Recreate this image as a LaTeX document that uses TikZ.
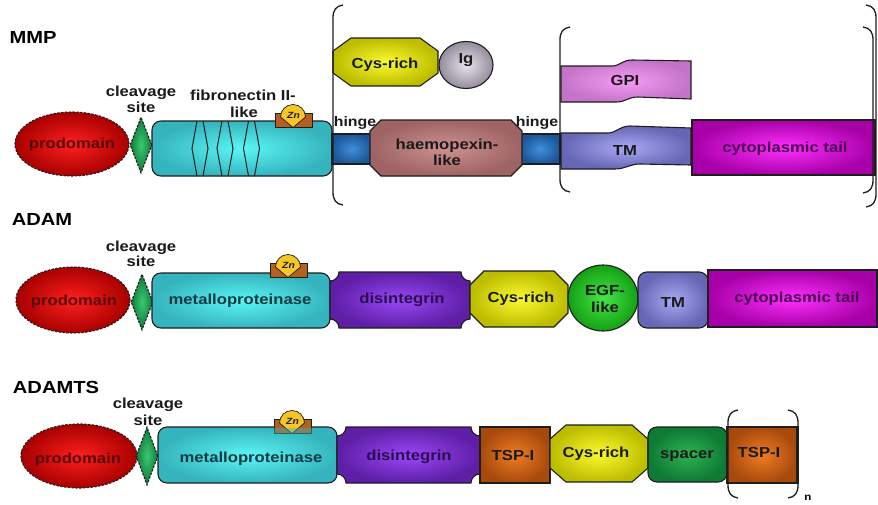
\documentclass[tikz,border=0pt]{standalone}
\usepackage{fontspec}
\setmainfont{Liberation Sans}[FakeStretch=1.15]
\usetikzlibrary{shapes.geometric}
\definecolor{linec}{HTML}{1E1E1E}
\definecolor{txt}{HTML}{1A1A1A}
\definecolor{prodTxt}{HTML}{5A0808}
\definecolor{cyTxt}{HTML}{103A40}
\definecolor{diTxt}{HTML}{2C0C52}
\definecolor{ctTxt}{HTML}{4C0052}
\definecolor{prodIn}{HTML}{FF2020}\definecolor{prodOut}{HTML}{A80000}
\definecolor{clvIn}{HTML}{3CC870}\definecolor{clvOut}{HTML}{0E7A3A}
\definecolor{cyIn}{HTML}{5AF6F6}\definecolor{cyOut}{HTML}{36B4BE}
\definecolor{hgIn}{HTML}{3F8FDC}\definecolor{hgOut}{HTML}{1C5698}
\definecolor{hmIn}{HTML}{CC9090}\definecolor{hmOut}{HTML}{9E6464}
\definecolor{csIn}{HTML}{FAFA30}\definecolor{csOut}{HTML}{BDBD00}
\definecolor{igIn}{HTML}{E6E4EC}\definecolor{igOut}{HTML}{948C9C}
\definecolor{gpIn}{HTML}{F49CF4}\definecolor{gpOut}{HTML}{C474C8}
\definecolor{tmIn}{HTML}{A8A8F4}\definecolor{tmOut}{HTML}{6666B4}
\definecolor{ctIn}{HTML}{FF30FF}\definecolor{ctOut}{HTML}{A800A8}
\definecolor{diIn}{HTML}{9A48F6}\definecolor{diOut}{HTML}{5E1EA6}
\definecolor{egIn}{HTML}{46E646}\definecolor{egOut}{HTML}{14A014}
\definecolor{tsIn}{HTML}{F07C24}\definecolor{tsOut}{HTML}{A84A0C}
\definecolor{spIn}{HTML}{2EB254}\definecolor{spOut}{HTML}{0E7A34}
\definecolor{znY}{HTML}{F6C626}\definecolor{znB}{HTML}{B4601E}
% octagon: x1,y1,x2,y2,dx,dy,style
\newcommand{\octa}[7]{\path[#7] (#1+#5,#2) -- (#3-#5,#2) -- (#3,#2+#6) -- (#3,#4-#6) -- (#3-#5,#4) -- (#1+#5,#4) -- (#1,#4-#6) -- (#1,#2+#6) -- cycle;}
% rectangle with concave corners: x1,y1,x2,y2,r,style
\newcommand{\concrect}[6]{\path[#6] (#1+#5,#2) -- (#3-#5,#2) .. controls (#3-#5,#2+0.55*#5) and (#3-0.55*#5,#2+#5) .. (#3,#2+#5) -- (#3,#4-#5) .. controls (#3-0.55*#5,#4-#5) and (#3-#5,#4-0.55*#5) .. (#3-#5,#4) -- (#1+#5,#4) .. controls (#1+#5,#4-0.55*#5) and (#1+0.55*#5,#4-#5) .. (#1,#4-#5) -- (#1,#2+#5) .. controls (#1+0.55*#5,#2+#5) and (#1+#5,#2+0.55*#5) .. (#1+#5,#2) -- cycle;}
% zinc badge: cx, cy, name
\newcommand{\znbadge}[3]{%
  \filldraw[fill=znB, draw=linec, line width=0.7pt] (#1-18,#2-4) -- (#1+19,#2-4) -- (#1+19,#2+10.5) -- (#1-18,#2+10.5) -- cycle;
  \filldraw[fill=znY, draw=linec, line width=0.7pt] (#1-12.5,#2) arc[start angle=180, end angle=360, radius=12.5] -- (#1,#2+10.5) -- cycle;
  \node[znl] (#3) at (#1+0.5,#2-2) {Zn};}
% brackets: x, y1, y2
\newcommand{\lbrak}[3]{\draw[brk] (#1+10,#2) .. controls (#1+3,#2+1) and (#1,#2+5) .. (#1,#2+13) -- (#1,#3-13) .. controls (#1,#3-5) and (#1+3,#3-1) .. (#1+10,#3);}
\newcommand{\rbrak}[3]{\draw[brk] (#1-10,#2) .. controls (#1-3,#2+1) and (#1,#2+5) .. (#1,#2+13) -- (#1,#3-13) .. controls (#1,#3-5) and (#1-3,#3-1) .. (#1-10,#3);}
\begin{document}
\begin{tikzpicture}[x=1pt,y=-1pt,
  ol/.style={draw=linec, line width=1.1pt},
  dsh/.style={draw=linec, line width=1.1pt, dash pattern=on 2.4pt off 1.4pt},
  brk/.style={draw=linec, line width=1.3pt},
  lbl/.style={font=\fontsize{14.5}{16}\selectfont\bfseries, inner sep=0pt, anchor=base, text=txt},
  slbl/.style={font=\fontsize{13.8}{15}\selectfont\bfseries, inner sep=0pt, anchor=base, text=txt},
  ttl/.style={font=\fontsize{17.5}{19}\selectfont\bfseries, inner sep=0pt, anchor=base, text=black},
  znl/.style={font=\fontsize{9}{9}\selectfont\bfseries\itshape, inner sep=0pt, text=linec},
  prodom/.style={ellipse, dsh, inner sep=0pt, inner color=prodIn, outer color=prodOut},
  clv/.style={diamond, dsh, inner sep=0pt, inner color=clvIn, outer color=clvOut, minimum width=22pt},
  rbox/.style={rectangle, ol, rounded corners=9pt, inner sep=0pt},
  sbox/.style={rectangle, ol, inner sep=0pt},
]
\useasboundingbox (0,0) rectangle (878,504);
\fill[white] (0,0) rectangle (878,504);

% ================= MMP =================
\node[ttl] (t-mmp) at (33,43) {MMP};
\node[prodom, minimum width=114pt, minimum height=64pt] (mmp-pro) at (72,144) {};
\node[clv, minimum height=56pt] (mmp-clv) at (141,145) {};
\node[lbl] (mmp-cl1) at (141,96) {cleavage};
\node[lbl] (mmp-cl2) at (141,112) {site};
\node[rbox, inner color=cyIn, outer color=cyOut, minimum width=180pt, minimum height=55pt] (mmp-fib) at (242,148.5) {};
\foreach \c in {200,225,251.5} {
  \draw[linec, line width=1pt] (\c-3,121) -- (\c-8,148.5) -- (\c-3,176);
  \draw[linec, line width=1pt] (\c+3,121) -- (\c+8,148.5) -- (\c+3,176);
}
\node[lbl] (mmp-fn1) at (243,100) {fibronectin II-};
\node[lbl] (mmp-fn2) at (244,117) {like};
\znbadge{293}{117}{mmp-zn}
\node[lbl, text=prodTxt] (mmp-prot) at (72,148) {prodomain};

\node[sbox, inner color=hgIn, outer color=hgOut, minimum width=40pt, minimum height=30pt] (mmp-h1) at (352,149) {};
\node[sbox, inner color=hgIn, outer color=hgOut, minimum width=40pt, minimum height=30pt] (mmp-h2) at (540,149) {};
\octa{370}{120}{522}{176}{11}{11}{ol, inner color=hmIn, outer color=hmOut}
\node[slbl] (mmp-hg1) at (355,126) {hinge};
\node[slbl] (mmp-hg2) at (537,126) {hinge};
\node[lbl] (mmp-hm1) at (447,149) {haemopexin-};
\node[lbl] (mmp-hm2) at (447,165) {like};

\octa{333}{38}{438}{86}{18}{13}{ol, inner color=csIn, outer color=csOut}
\node[lbl] (mmp-cst) at (385,68) {Cys-rich};
\node[ellipse, ol, inner sep=0pt, inner color=igIn, outer color=igOut, minimum width=54pt, minimum height=47pt] (mmp-ig) at (466,65) {};
\node[lbl] (mmp-igt) at (466,63) {Ig};

\path[ol, inner color=gpIn, outer color=gpOut] (561,66) -- (612,66) .. controls (620,66) and (622,60) .. (632,60) -- (691,61) -- (691,99) -- (638,97) .. controls (628,97) and (626,102) .. (616,102) -- (561,102) -- cycle;
\node[lbl] (mmp-gpit) at (625,85) {GPI};
\path[ol, inner color=tmIn, outer color=tmOut] (561,133) -- (608,133) .. controls (616,133) and (620,126) .. (630,126) -- (691,128) -- (691,165) -- (640,164) .. controls (630,164) and (625,169) .. (615,169) -- (561,169) -- cycle;
\node[lbl] (mmp-tmt) at (625,155) {TM};
\node[sbox, inner color=ctIn, outer color=ctOut, minimum width=183pt, minimum height=55pt] (mmp-ct) at (783.5,147.5) {};
\node[lbl, text=ctTxt] (mmp-ctt) at (785,152) {cytoplasmic tail};

\lbrak{333}{5}{205}
\lbrak{560}{27}{192}
\rbrak{873}{27}{193}
\rbrak{876}{5}{207}

% ================= ADAM =================
\node[ttl] (t-adam) at (42,225) {ADAM};
\node[prodom, minimum width=114pt, minimum height=66pt] (adam-pro) at (73,300) {};
\node[clv, minimum height=56pt] (adam-clv) at (142,302) {};
\node[lbl] (adam-cl1) at (141,251) {cleavage};
\node[lbl] (adam-cl2) at (141,266) {site};
\node[lbl, text=prodTxt] (adam-prot) at (74,305) {prodomain};
\node[rbox, inner color=cyIn, outer color=cyOut, minimum width=178pt, minimum height=55pt] (adam-mp) at (241,300.5) {};
\node[lbl, text=cyTxt] (adam-mpt) at (240,304) {metalloproteinase};
\znbadge{288}{267}{adam-zn}
\concrect{330}{272}{470}{328}{9}{ol, inner color=diIn, outer color=diOut}
\node[lbl, text=diTxt] (adam-dit) at (402,303) {disintegrin};
\octa{470}{271}{568}{327}{14}{14}{ol, inner color=csIn, outer color=csOut}
\node[lbl] (adam-cst) at (521,302) {Cys-rich};
\node[ellipse, ol, inner sep=0pt, inner color=egIn, outer color=egOut, minimum width=70pt, minimum height=66pt] (adam-eg) at (603,298) {};
\node[lbl] (adam-eg1) at (605,295) {EGF-};
\node[lbl] (adam-eg2) at (605,312) {like};
\node[rbox, inner color=tmIn, outer color=tmOut, minimum width=70pt, minimum height=56pt] (adam-tm) at (673,300) {};
\node[lbl] (adam-tmt) at (673,307) {TM};
\node[sbox, inner color=ctIn, outer color=ctOut, minimum width=169pt, minimum height=57pt] (adam-ct) at (792.5,298.5) {};
\node[lbl, text=ctTxt] (adam-ctt) at (797,302) {cytoplasmic tail};

% ================= ADAMTS =================
\node[ttl] (t-adamts) at (56,393) {ADAMTS};
\node[prodom, minimum width=116pt, minimum height=64pt] (ts-pro) at (79,456) {};
\node[clv, minimum height=58pt] (ts-clv) at (147,456) {};
\node[lbl] (ts-cl1) at (148,408) {cleavage};
\node[lbl] (ts-cl2) at (148,425) {site};
\node[lbl, text=prodTxt] (ts-prot) at (78,463) {prodomain};
\node[rbox, inner color=cyIn, outer color=cyOut, minimum width=179pt, minimum height=56pt] (ts-mp) at (247.5,455) {};
\znbadge{292}{423}{ts-zn}
\fill[cyOut, opacity=0.45] (273.5,428) rectangle (311.5,433.5);
\node[lbl, text=cyTxt] (ts-mpt) at (251,462) {metalloproteinase};
\concrect{337}{427}{480}{483}{9}{ol, inner color=diIn, outer color=diOut}
\node[lbl, text=diTxt] (ts-dit) at (409,460) {disintegrin};
\node[sbox, inner color=tsIn, outer color=tsOut, minimum width=70pt, minimum height=56pt] (ts-tsp1) at (515,455) {};
\node[lbl] (ts-tsp1t) at (513,460) {TSP-I};
\octa{550}{425}{648}{482}{16}{14}{ol, inner color=csIn, outer color=csOut}
\node[lbl] (ts-cst) at (596,457) {Cys-rich};
\node[rbox, inner color=spIn, outer color=spOut, minimum width=79pt, minimum height=55pt] (ts-sp) at (687.5,454.5) {};
\node[lbl] (ts-spt) at (687,458) {spacer};
\node[sbox, inner color=tsIn, outer color=tsOut, minimum width=70pt, minimum height=56pt] (ts-tsp2) at (762,455) {};
\draw[linec, line width=2.6pt] (ts-tsp2.north east) -- (ts-tsp2.south east);
\node[lbl] (ts-tsp2t) at (759,457) {TSP-I};
\lbrak{728}{410}{498}
\rbrak{798}{410}{498}
\node[font=\fontsize{10}{11}\selectfont\bfseries, inner sep=0pt, anchor=base] (ts-n) at (808,500) {n};
\end{tikzpicture}
\end{document}
